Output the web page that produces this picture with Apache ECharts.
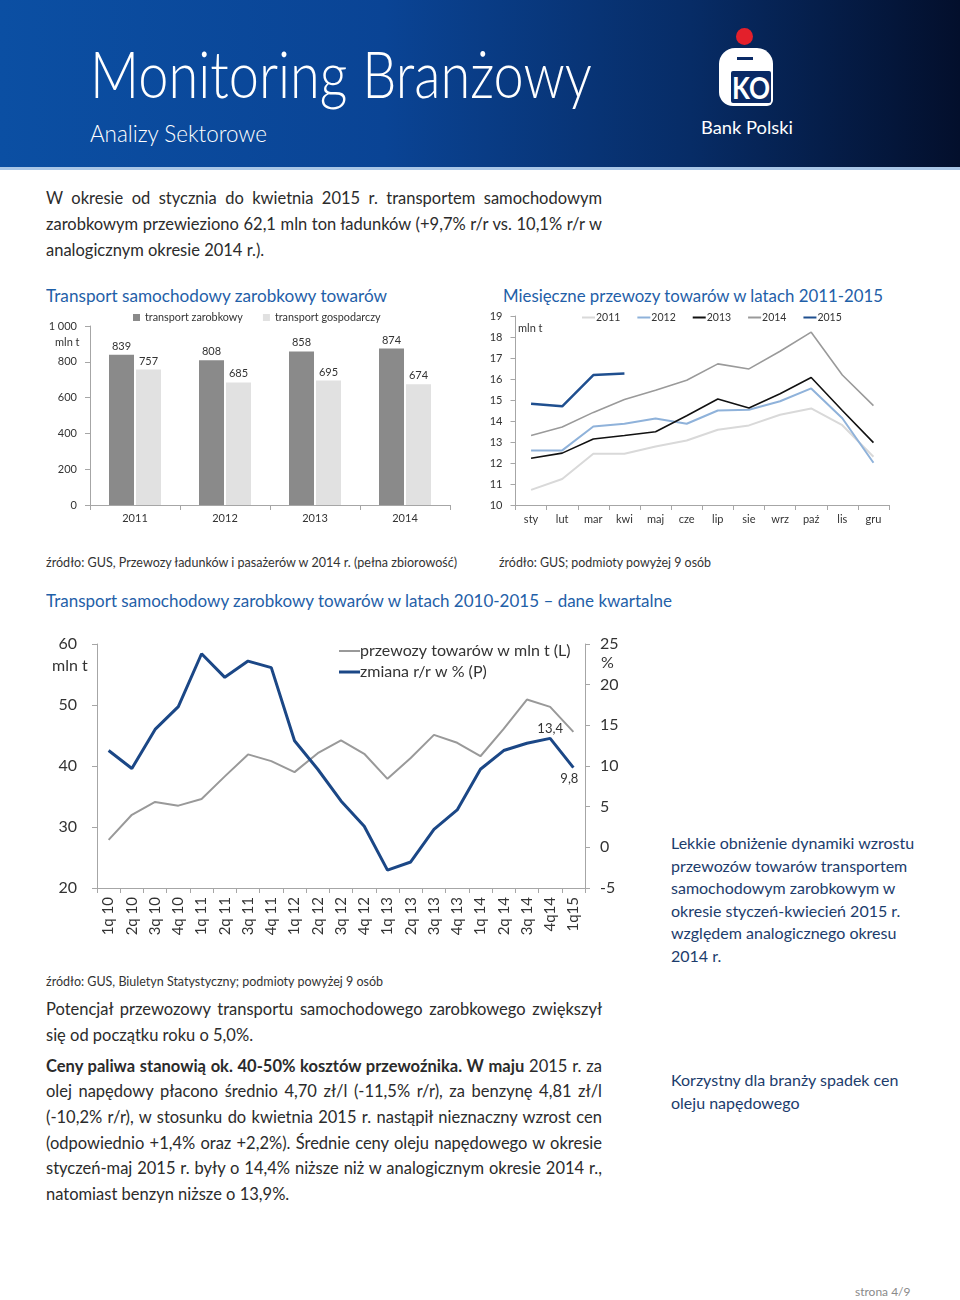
<!DOCTYPE html>
<html>
<head>
<meta charset="utf-8">
<script src="https://cdn.jsdelivr.net/npm/echarts@6/dist/echarts.min.js"></script>
<style>
  html, body { margin:0; padding:0; background:#fff; }
  body { width:960px; height:1300px; position:relative; overflow:hidden; font-family:'Lato', 'Noto Sans', sans-serif; color:#2b2b2b; }
  .abs { position:absolute; white-space:nowrap; }
  #header { position:absolute; left:0; top:0; width:960px; height:168px;
    background:linear-gradient(90deg, #0b4fa3 0%, #0a4495 40%, #072c66 72%, #030f2c 100%); }
  #strip { position:absolute; left:0; top:167px; width:960px; height:3px; background:#a9c6e6; }
  .fit { display:inline-block; transform-origin:0 50%; }
  .title { color:#1f60a8; font-size:18px; }
  .src { color:#333; font-size:13px; }
  .jl { position:absolute; left:46px; width:556px; height:26px; line-height:26px; font-size:16.5px; text-align:justify; text-align-last:justify; white-space:nowrap; }
  .jl.last { text-align-last:left; }
  .side { position:absolute; left:671px; font-size:16px; line-height:22.5px; color:#1c3c6c; white-space:nowrap; }
  #chart { position:absolute; left:0; top:0; width:960px; height:1300px; }
</style>
</head>
<body>
<div id="header"></div>
<div id="strip"></div>
<div class="abs" style="left:90px; top:38px; height:70px; line-height:70px; color:#fff; font-size:66px; font-weight:300;"><span class="fit" data-w="502">Monitoring Branżowy</span></div>
<div class="abs" style="left:90px; top:118px; height:30px; line-height:30px; color:#fff; font-size:23px; font-weight:300;"><span class="fit" data-w="177">Analizy Sektorowe</span></div>
<!-- logo -->
<div class="abs" style="left:736px; top:28px; width:17px; height:17px; border-radius:50%; background:#e3202b;"></div>
<div class="abs" style="left:719px; top:48px; width:54px; height:58px; border-radius:16px 16px 6px 14px; background:#fff;"></div>
<div class="abs" style="left:737px; top:57px; width:16px; height:3px; background:#0a2a66;"></div>
<div class="abs" style="left:731px; top:71px; width:40px; height:32px; background:#0a2a66; border-radius:2px;"></div>
<div class="abs" style="left:732px; top:70px; height:34px; line-height:34px; color:#fff; font-size:30px; font-weight:bold;"><span class="fit" data-w="38">KO</span></div>
<div class="abs" style="left:701px; top:116px; height:22px; line-height:22px; color:#fff; font-size:18px;"><span class="fit" data-w="92">Bank Polski</span></div>

<!-- intro -->
<div class="jl" style="top:185px;">W okresie od stycznia do kwietnia 2015 r. transportem samochodowym</div>
<div class="jl" style="top:211px;">zarobkowym przewieziono 62,1 mln ton ładunków (+9,7% r/r vs. 10,1% r/r w</div>
<div class="jl last" style="top:237px;">analogicznym okresie 2014 r.).</div>

<!-- chart titles -->
<div class="abs title" style="left:46px; top:284px; height:22px; line-height:22px;"><span class="fit" data-w="341">Transport samochodowy zarobkowy towarów</span></div>
<div class="abs title" style="left:503px; top:284px; height:22px; line-height:22px;"><span class="fit" data-w="380">Miesięczne przewozy towarów w latach 2011-2015</span></div>
<div class="abs src" style="left:46px; top:553px; height:18px; line-height:18px;"><span class="fit" data-w="411">źródło: GUS, Przewozy ładunków i pasażerów w 2014 r. (pełna zbiorowość)</span></div>
<div class="abs src" style="left:499px; top:553px; height:18px; line-height:18px;"><span class="fit" data-w="212">źródło: GUS; podmioty powyżej 9 osób</span></div>
<div class="abs title" style="left:46px; top:589px; height:22px; line-height:22px;"><span class="fit" data-w="626">Transport samochodowy zarobkowy towarów w latach 2010-2015 – dane kwartalne</span></div>
<div class="abs src" style="left:46px; top:972px; height:18px; line-height:18px;"><span class="fit" data-w="337">źródło: GUS, Biuletyn Statystyczny; podmioty powyżej 9 osób</span></div>

<!-- side notes -->
<div class="side" style="top:832px;">Lekkie obniżenie dynamiki wzrostu<br>przewozów towarów transportem<br>samochodowym zarobkowym w<br>okresie styczeń-kwiecień 2015 r.<br>względem analogicznego okresu<br>2014 r.</div>
<div class="side" style="top:1069px;">Korzystny dla branży spadek cen<br>oleju napędowego</div>

<!-- body paragraphs -->
<div class="jl" style="top:996px;">Potencjał przewozowy transportu samochodowego zarobkowego zwiększył</div>
<div class="jl last" style="top:1022px;">się od początku roku o 5,0%.</div>
<div class="jl" style="top:1053px;"><b>Ceny paliwa stanowią ok. 40-50% kosztów przewoźnika. W maju</b> 2015 r. za</div>
<div class="jl" style="top:1078px;">olej napędowy płacono średnio 4,70 zł/l (-11,5% r/r), za benzynę 4,81 zł/l</div>
<div class="jl" style="top:1104px;">(-10,2% r/r), w stosunku do kwietnia 2015 r. nastąpił nieznaczny wzrost cen</div>
<div class="jl" style="top:1130px;">(odpowiednio +1,4% oraz +2,2%). Średnie ceny oleju napędowego w okresie</div>
<div class="jl" style="top:1155px;">styczeń-maj 2015 r. były o 14,4% niższe niż w analogicznym okresie 2014 r.,</div>
<div class="jl last" style="top:1181px;">natomiast benzyn niższe o 13,9%.</div>

<div class="abs" style="left:855px; top:1284px; font-size:12px; color:#8a8a8a;">strona 4/9</div>

<div id="chart"></div>

<script>
// ---- data ----
const barYears = ['2011', '2012', '2013', '2014'];
const zarobkowy = [839, 808, 858, 874];
const gospodarczy = [757, 685, 695, 674];

const months = ['sty', 'lut', 'mar', 'kwi', 'maj', 'cze', 'lip', 'sie', 'wrz', 'paź', 'lis', 'gru'];
const m2011 = [10.72, 11.24, 12.44, 12.44, 12.79, 13.07, 13.58, 13.79, 14.3, 14.6, 13.8, 12.3];
const m2012 = [12.6, 12.6, 13.74, 13.87, 14.12, 13.87, 14.5, 14.54, 14.94, 15.55, 14.13, 12.01];
const m2013 = [12.23, 12.47, 13.14, 13.31, 13.49, 14.25, 15.05, 14.62, 15.3, 16.07, 14.5, 12.97];
const m2014 = [13.31, 13.71, 14.41, 15.02, 15.46, 15.94, 16.72, 16.48, 17.32, 18.23, 16.19, 14.73];
const m2015 = [14.82, 14.7, 16.19, 16.26];

const quarters = ['1q 10', '2q 10', '3q 10', '4q 10', '1q 11', '2q 11', '3q 11', '4q 11', '1q 12', '2q 12', '3q 12', '4q 12', '1q 13', '2q 13', '3q 13', '4q 13', '1q 14', '2q 14', '3q 14', '4q14', '1q15'];
const tonnes = [27.9, 32.0, 34.1, 33.5, 34.6, 38.3, 41.9, 40.8, 39.0, 42.1, 44.2, 42.0, 37.9, 41.3, 45.1, 43.8, 41.6, 46.1, 50.9, 49.7, 45.6];
const yoy = [11.9, 9.7, 14.5, 17.3, 23.8, 20.9, 22.9, 22.1, 13.1, 9.6, 5.7, 2.6, -2.8, -1.8, 2.2, 4.6, 9.6, 11.9, 12.8, 13.4, 9.8];
const yoyLabelled = { 19: 'top', 20: 'bottom' };

// ---- fit single-line texts ----
document.querySelectorAll('.fit').forEach(function (el) {
  const w = parseFloat(el.getAttribute('data-w'));
  const cur = el.getBoundingClientRect().width;
  if (cur > 0) el.style.transform = 'scaleX(' + (w / cur) + ')';
});

const AX = '#a6a6a6';
const FF = 'Lato';
function catAxis(grid, data, extra) {
  return Object.assign({
    gridIndex: grid, type: 'category', data: data, boundaryGap: true,
    axisLine: { onZero: false, lineStyle: { color: AX } },
    axisTick: { show: true, length: 5, lineStyle: { color: AX } },
    axisLabel: { color: '#333', fontSize: 11, fontFamily: FF, margin: 8 },
    splitLine: { show: false }
  }, extra || {});
}
function valAxis(grid, min, max, interval, extra) {
  return Object.assign({
    gridIndex: grid, type: 'value', min: min, max: max, interval: interval,
    axisLine: { show: true, onZero: false, lineStyle: { color: AX } },
    axisTick: { show: true, length: 5, lineStyle: { color: AX } },
    axisLabel: { color: '#333', fontSize: 11, fontFamily: FF, margin: 13 },
    splitLine: { show: false }
  }, extra || {});
}

const yoyData = yoy.map(function (v, i) {
  if (yoyLabelled[i]) {
    return {
      value: v,
      label: {
        show: true, position: yoyLabelled[i], distance: yoyLabelled[i] === 'top' ? 3 : 5,
        offset: yoyLabelled[i] === 'top' ? [0, 0] : [-4, 0],
        color: '#333', fontSize: 13, fontFamily: FF,
        formatter: function (p) { return String(p.value).replace('.', ','); }
      }
    };
  }
  return v;
});

function mLine(name, data, color, width) {
  return { name: name, type: 'line', xAxisIndex: 1, yAxisIndex: 1, data: data, symbol: 'none',
    lineStyle: { color: color, width: width }, itemStyle: { color: color }, z: 3 };
}

const option = {
  animation: false,
  textStyle: { fontFamily: FF },
  grid: [
    { left: 90, top: 326, width: 360, height: 179 },
    { left: 515.5, top: 316, width: 373.5, height: 189 },
    { left: 97, top: 644, width: 488, height: 244 }
  ],
  xAxis: [
    catAxis(0, barYears),
    catAxis(1, months, { axisLabel: { color: '#333', fontSize: 11, fontFamily: FF, margin: 9 } }),
    catAxis(2, quarters, { axisLabel: { color: '#333', fontSize: 15, fontFamily: FF, margin: 9, rotate: 90 } })
  ],
  yAxis: [
    valAxis(0, 0, 1000, 200, { axisLabel: { color: '#333', fontSize: 11, fontFamily: FF, margin: 13,
      formatter: function (v) { return v === 1000 ? '1 000' : String(v); } } }),
    valAxis(1, 10, 19, 1),
    valAxis(2, 20, 60, 10, { axisLabel: { color: '#333', fontSize: 16, fontFamily: FF, margin: 20 } }),
    valAxis(2, -5, 25, 5, { position: 'right', axisLabel: { color: '#333', fontSize: 16, fontFamily: FF, margin: 15 } })
  ],
  legend: [
    { data: ['transport zarobkowy', 'transport gospodarczy'], left: 128, top: 307, icon: 'rect',
      itemWidth: 7, itemHeight: 7, itemGap: 20, textStyle: { fontSize: 10.8, color: '#333', fontFamily: FF } },
    { data: ['2011', '2012', '2013', '2014', '2015'], left: 577, top: 307, icon: 'rect', itemWidth: 13, itemHeight: 2,
      itemGap: 17, textStyle: { fontSize: 10.5, color: '#333', fontFamily: FF, padding: [0, 0, 0, -4] } },
    { data: ['przewozy towarów w mln t (L)'], left: 334, top: 638, icon: 'rect',
      itemWidth: 21, itemHeight: 2, textStyle: { fontSize: 16, color: '#333', fontFamily: FF, padding: [0, 0, 0, -5] } },
    { data: ['zmiana r/r w % (P)'], left: 334, top: 659, icon: 'rect',
      itemWidth: 21, itemHeight: 3, textStyle: { fontSize: 16, color: '#333', fontFamily: FF, padding: [0, 0, 0, -5] } }
  ],
  graphic: [
    { type: 'text', left: 55, top: 337, style: { text: 'mln t', fontSize: 11, fill: '#333', fontFamily: FF } },
    { type: 'text', left: 518, top: 323, style: { text: 'mln t', fontSize: 11, fill: '#333', fontFamily: FF } },
    { type: 'text', left: 52, top: 658, style: { text: 'mln t', fontSize: 16, fill: '#333', fontFamily: FF } },
    { type: 'text', left: 601, top: 655, style: { text: '%', fontSize: 16, fill: '#333', fontFamily: FF } }
  ],
  series: [
    { name: 'transport zarobkowy', type: 'bar', xAxisIndex: 0, yAxisIndex: 0, data: zarobkowy,
      barWidth: 25, barGap: '8%', itemStyle: { color: '#8a8a8a' },
      label: { show: true, position: 'top', distance: 3, color: '#333', fontSize: 11, fontFamily: FF } },
    { name: 'transport gospodarczy', type: 'bar', xAxisIndex: 0, yAxisIndex: 0, data: gospodarczy,
      barWidth: 25, itemStyle: { color: '#e1e1e1' },
      label: { show: true, position: 'top', distance: 3, color: '#333', fontSize: 11, fontFamily: FF } },
    mLine('2011', m2011, '#d9d9d9', 2),
    mLine('2012', m2012, '#8fb2da', 2),
    mLine('2013', m2013, '#111111', 1.6),
    mLine('2014', m2014, '#9a9a9a', 1.6),
    mLine('2015', m2015, '#1f4f8f', 2.5),
    { name: 'przewozy towarów w mln t (L)', type: 'line', xAxisIndex: 2, yAxisIndex: 2, data: tonnes,
      symbol: 'none', lineStyle: { color: '#999999', width: 2 }, itemStyle: { color: '#999999' } },
    { name: 'zmiana r/r w % (P)', type: 'line', xAxisIndex: 2, yAxisIndex: 3, data: yoyData,
      symbol: 'circle', symbolSize: 0.01, showSymbol: true,
      lineStyle: { color: '#1b4786', width: 3 }, itemStyle: { color: '#1b4786' } }
  ]
};

const chart = echarts.init(document.getElementById('chart'), null, { renderer: 'canvas' });
chart.setOption(option);
</script>
</body>
</html>
